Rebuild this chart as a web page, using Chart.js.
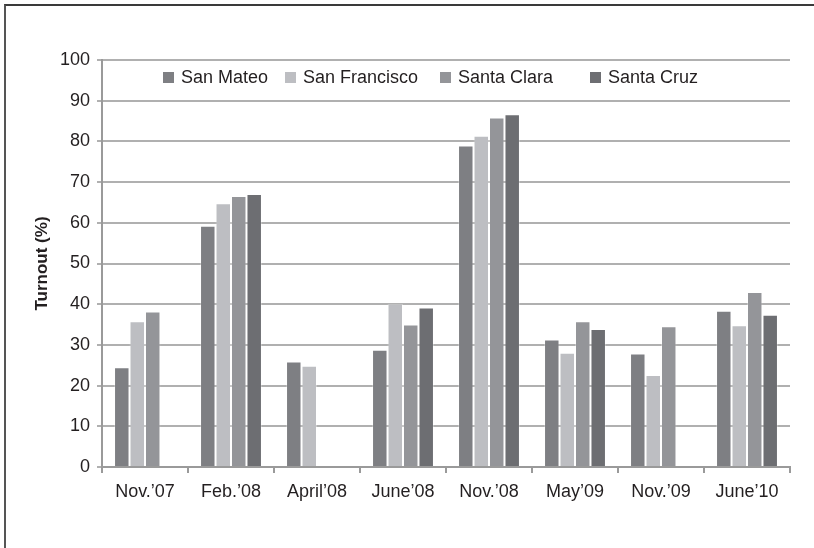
<!DOCTYPE html>
<html>
<head>
<meta charset="utf-8">
<title>Turnout (%)</title>
<script src="https://cdn.jsdelivr.net/npm/chart.js@4.4.1/dist/chart.umd.min.js"></script>
<style>
    html, body { margin: 0; padding: 0; background: #ffffff; overflow: hidden; }
    #wrap { position: relative; width: 814px; height: 548px; }
    #turnoutChart { display: block; }
    #frame {
        position: absolute; left: 4px; top: 4px; right: 0; bottom: 0;
        border-top: 2px solid #3a3a3a; border-left: 2px solid #555555;
        pointer-events: none;
    }
</style>
</head>
<body>
<div id="wrap">
    <canvas id="turnoutChart" width="814" height="548"></canvas>
    <div id="frame"></div>
</div>
<script>
// ============================================
// DATA
// ============================================
const elections = ["Nov.\u201907", "Feb.\u201908", "April\u201908", "June\u201908", "Nov.\u201908", "May\u201909", "Nov.\u201909", "June\u201910"];

const sanMateo      = [24.5, 59.3, 25.9, 28.8, 79.0, 31.3, 27.9, 38.4];
const sanFrancisco  = [35.8, 64.8, 24.9, 40.1, 81.4, 28.1, 22.6, 34.8];
const santaClara    = [38.2, 66.6, null, 35.0, 85.9, 35.8, 34.6, 43.0];
const santaCruz     = [null, 67.1, null, 39.2, 86.7, 33.9, null, 37.4];

const countyNames = ["San Mateo", "San Francisco", "Santa Clara", "Santa Cruz"];
const yTicks = [0, 10, 20, 30, 40, 50, 60, 70, 80, 90, 100];

const COUNTY_COLORS = ["#7e7f83", "#bdbec2", "#949599", "#6d6e72"];
const TEXT_COLOR = "#231f20";
const FONT = "'Liberation Sans', Arial, sans-serif";

// legend is drawn inside the plot area, like the original
const LEGEND_BOX_X = [163, 285, 440, 590];
const LEGEND_Y = 77;

const inPlotLegend = {
    id: "inPlotLegend",
    afterDraw(chart) {
        const ctx = chart.ctx;
        ctx.save();
        ctx.font = "18px " + FONT;
        ctx.textBaseline = "middle";
        ctx.textAlign = "left";
        chart.data.datasets.forEach((ds, i) => {
            const x = LEGEND_BOX_X[i];
            ctx.fillStyle = ds.backgroundColor;
            ctx.fillRect(x, LEGEND_Y - 5, 11, 11);
            ctx.fillStyle = TEXT_COLOR;
            ctx.fillText(ds.label, x + 18, LEGEND_Y + 1);
        });
        ctx.restore();
    }
};

const seriesValues = [sanMateo, sanFrancisco, santaClara, santaCruz];

const ctx = document.getElementById("turnoutChart").getContext("2d");
new Chart(ctx, {
    type: "bar",
    data: {
        labels: elections,
        datasets: seriesValues.map((vals, i) => ({
            label: countyNames[i],
            data: vals,
            backgroundColor: COUNTY_COLORS[i],
            borderColor: "rgba(255,255,255,0.3)",
            borderWidth: 1,
            categoryPercentage: 0.72,
            barPercentage: 1.0
        }))
    },
    options: {
        responsive: false,
        animation: false,
        layout: { padding: { left: 0, right: 24, top: 60, bottom: 41 } },
        plugins: {
            legend: { display: false },
            tooltip: { enabled: false }
        },
        scales: {
            x: {
                offset: true,
                grid: {
                    display: true,
                    drawOnChartArea: false,
                    drawTicks: true,
                    tickLength: 6,
                    color: "#9a9a9a",
                    lineWidth: 2,
                    offset: true
                },
                border: { color: "#9a9a9a", width: 2 },
                ticks: {
                    color: TEXT_COLOR,
                    font: { family: FONT, size: 18 },
                    padding: 8,
                    maxRotation: 0,
                    autoSkip: false
                },
                afterFit(scale) { scale.height = 40; }
            },
            y: {
                min: 0,
                max: 100,
                afterBuildTicks(scale) {
                    scale.ticks = yTicks.map(v => ({ value: v }));
                },
                grid: {
                    color: "#b0b0b0",
                    lineWidth: 2,
                    drawTicks: true,
                    tickLength: 5
                },
                border: { color: "#9a9a9a", width: 2 },
                ticks: {
                    color: TEXT_COLOR,
                    font: { family: FONT, size: 18 },
                    padding: 7
                },
                title: {
                    display: true,
                    text: "Turnout (%)",
                    color: TEXT_COLOR,
                    font: { family: FONT, size: 17, weight: "bold" },
                    padding: { top: 32, bottom: 0 }
                },
                afterFit(scale) { scale.width = 102; }
            }
        }
    },
    plugins: [inPlotLegend]
});
</script>
</body>
</html>
